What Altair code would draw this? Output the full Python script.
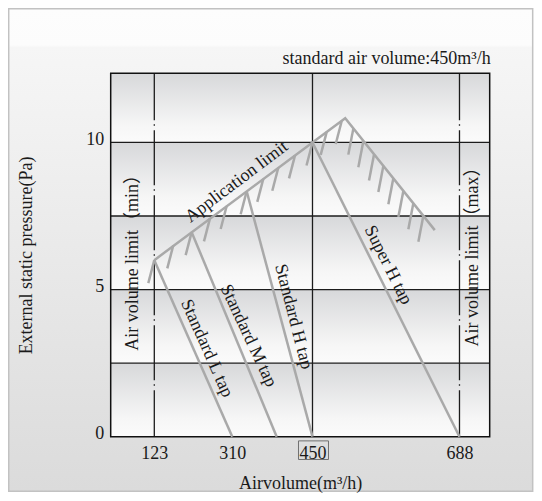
import altair as alt
import pandas as pd

# ---------------- data ----------------
x_ticks = [123, 310, 450, 688]
y_ticks = [0, 5, 10]
grid_y = [2.5, 5, 7.5, 10]
band_lo = [0, 2.5, 5, 7.5, 10]
band_hi = [2.5, 5, 7.5, 10, 12.35]

limit_x = [123, 450, 503, 648]
limit_y = [6.0, 10.0, 10.82, 7.02]

tap_names = ["Standard L tap", "Standard M tap", "Standard H tap", "Super H tap"]
tap_top_x = [123, 212.6, 335.1, 450]
tap_top_y = [6.0, 6.95, 8.34, 10.0]
tap_end_x = [310, 387.5, 450, 688]
tap_end_y = [0, 0, 0, 0]

rise_hatch_x = [123, 168.5, 212.6, 256.5, 296.5, 335.1, 364.1, 390.3, 419.5, 450, 473.0, 497.3]
rise_hatch_y = [6.0, 6.50, 6.95, 7.42, 7.84, 8.34, 8.76, 9.14, 9.56, 10.0, 10.36, 10.73]
fall_hatch_x = [516.1, 532.3, 549.6, 564.7, 580.9, 597.1, 613.3, 629.5]
fall_hatch_y = [10.47, 10.04, 9.59, 9.20, 8.78, 8.35, 7.93, 7.51]

limit_rules = [123, 688]
std_rule = [450]

label_text = ["Application limit", "Standard L tap", "Standard M tap", "Standard H tap",
              "Super H tap", "Air volume limit（min）", "Air volume limit（max）"]
label_x = [317.7, 248.6, 337.9, 416.5, 572.2, 63.8, 720]
label_y = [8.66, 3.0, 3.43, 4.08, 5.83, 6.06, 6.26]
label_angle = [323, 66, 65, 75.5, 63.5, 270, 270]

title_text = "standard air volume:450m³/h"

# ---------------- style ----------------
W, H = 379, 363.4
FONT = "Liberation Serif"
FS = 18
TXT = "#1a1a1a"
GRAY = "#a9a9a9"

x_scale = alt.Scale(domain=[0, 123, 310, 450, 688, 760],
                    range=[0, 43.6, 121.6, 201.8, 348.8, W], nice=False, zero=False)
y_scale = alt.Scale(domain=[0, 12.35], nice=False, zero=False)

x_axis = alt.Axis(values=x_ticks, title="Airvolume(m³/h)", labelFont=FONT, labelFontSize=FS,
                  labelColor=TXT, titleFont=FONT, titleFontSize=FS, titleFontWeight="normal",
                  titleColor=TXT, ticks=False, domain=False, grid=False, labelPadding=8,
                  titlePadding=12, labelFlush=False, zindex=2)
y_axis = alt.Axis(values=y_ticks, title="External static pressure(Pa)", labelFont=FONT,
                  labelFontSize=FS, labelColor=TXT, titleFont=FONT, titleFontSize=FS,
                  titleFontWeight="normal", titleColor=TXT, ticks=False, domain=False,
                  grid=False, labelPadding=7, titlePadding=50, labelFlush=False,
                  labelBaseline="middle", labelOffset=-3, zindex=2)


def X(f):
    return alt.X(f, type="quantitative", scale=x_scale, axis=x_axis)


def Y(f):
    return alt.Y(f, type="quantitative", scale=y_scale, axis=y_axis)


one = pd.DataFrame({"a": [0]})

bg_grad = alt.Gradient(gradient="linear", x1=0, x2=0, y1=0, y2=1, stops=[
    alt.GradientStop(color="#fdfdfd", offset=0),
    alt.GradientStop(color="#fcfcfc", offset=0.075),
    alt.GradientStop(color="#f6f6f6", offset=0.08),
    alt.GradientStop(color="#dbdbdb", offset=1)])
band_grad = alt.Gradient(gradient="linear", x1=0, x2=0, y1=0, y2=1, stops=[
    alt.GradientStop(color="#d7d8da", offset=0),
    alt.GradientStop(color="#f6f6f6", offset=0.75),
    alt.GradientStop(color="#fbfbfb", offset=1)])

bg = alt.Chart(one).mark_rect(clip=False, fill=bg_grad, stroke="#c2c2c2", strokeWidth=1.5).encode(
    x=alt.value(-102), x2=alt.value(W + 43), y=alt.value(-64.5), y2=alt.value(H + 54.5))

bands = alt.Chart(pd.DataFrame({"lo": band_lo, "hi": band_hi})).mark_rect(fill=band_grad).encode(
    x=alt.datum(0, scale=x_scale, axis=x_axis, type="quantitative"),
    x2=alt.datum(760), y=Y("lo"), y2="hi")

grid = alt.Chart(pd.DataFrame({"v": grid_y})).mark_rule(color="#1c1c1c", strokeWidth=1.3).encode(y=Y("v"))

vrule = alt.Chart(pd.DataFrame({"v": std_rule})).mark_rule(color="#1c1c1c", strokeWidth=1.3).encode(x=X("v"))

dashrule = alt.Chart(pd.DataFrame({"v": limit_rules})).mark_rule(
    color="#1c1c1c", strokeWidth=1.3, strokeDash=[55, 4, 1.5, 4.5], strokeDashOffset=8).encode(x=X("v"))

border = alt.Chart(one).mark_rect(filled=False, stroke="#111111", strokeWidth=1.5, fill=None).encode(
    x=alt.datum(0, scale=x_scale, type="quantitative"), x2=alt.datum(760),
    y=alt.datum(0, scale=y_scale, type="quantitative"), y2=alt.datum(12.35))

taps = alt.Chart(pd.DataFrame({"name": tap_names, "x1": tap_top_x, "y1": tap_top_y,
                               "x2": tap_end_x, "y2": tap_end_y})).mark_rule(
    color=GRAY, strokeWidth=2.5).encode(x=X("x1"), y=Y("y1"), x2="x2", y2="y2")

limit = alt.Chart(pd.DataFrame({"x": limit_x, "y": limit_y, "o": list(range(len(limit_x)))})).mark_line(
    color=GRAY, strokeWidth=2.5, strokeJoin="miter").encode(x=X("x"), y=Y("y"), order="o")

rise = alt.Chart(pd.DataFrame({"x": rise_hatch_x, "y": rise_hatch_y})).mark_rule(
    color=GRAY, strokeWidth=2.5, x2Offset=-6, y2Offset=23).encode(x=X("x"), y=Y("y"), x2="x", y2="y")

fall = alt.Chart(pd.DataFrame({"x": fall_hatch_x, "y": fall_hatch_y})).mark_rule(
    color=GRAY, strokeWidth=2.5, x2Offset=-5, y2Offset=26).encode(x=X("x"), y=Y("y"), x2="x", y2="y")

labels = alt.Chart(pd.DataFrame({"t": label_text, "x": label_x, "y": label_y, "a": label_angle})).mark_text(
    font=FONT + ", Noto Sans CJK SC", fontSize=FS, color=TXT, align="center", baseline="middle").encode(
    x=X("x"), y=Y("y"), text="t", angle=alt.Angle("a:Q", scale=None))

title = alt.Chart(pd.DataFrame({"t": [title_text]})).mark_text(
    font=FONT, fontSize=FS, color=TXT, align="right", baseline="alphabetic", clip=False).encode(
    x=alt.value(W + 1), y=alt.value(-9), text="t")

box = alt.Chart(pd.DataFrame({"v": [450]})).mark_point(
    shape="M-1,-0.62L1,-0.62L1,0.62L-1,0.62Z", size=900, filled=False, color="#707070",
    strokeWidth=1, opacity=1, yOffset=13.5, xOffset=1, clip=False).encode(
    x=X("v"), y=alt.datum(0))

chart = alt.layer(bg, bands, grid, vrule, dashrule, border, taps, limit, rise, fall, labels, title, box).properties(
    width=W, height=H,
    autosize=alt.AutoSizeParams(type="none"),
    padding={"left": 102.7, "top": 65.3, "right": 44, "bottom": 56},
    background="#ffffff",
).configure_view(stroke=None)

chart.save("out.html", embed_options={"renderer": "svg", "actions": False})
